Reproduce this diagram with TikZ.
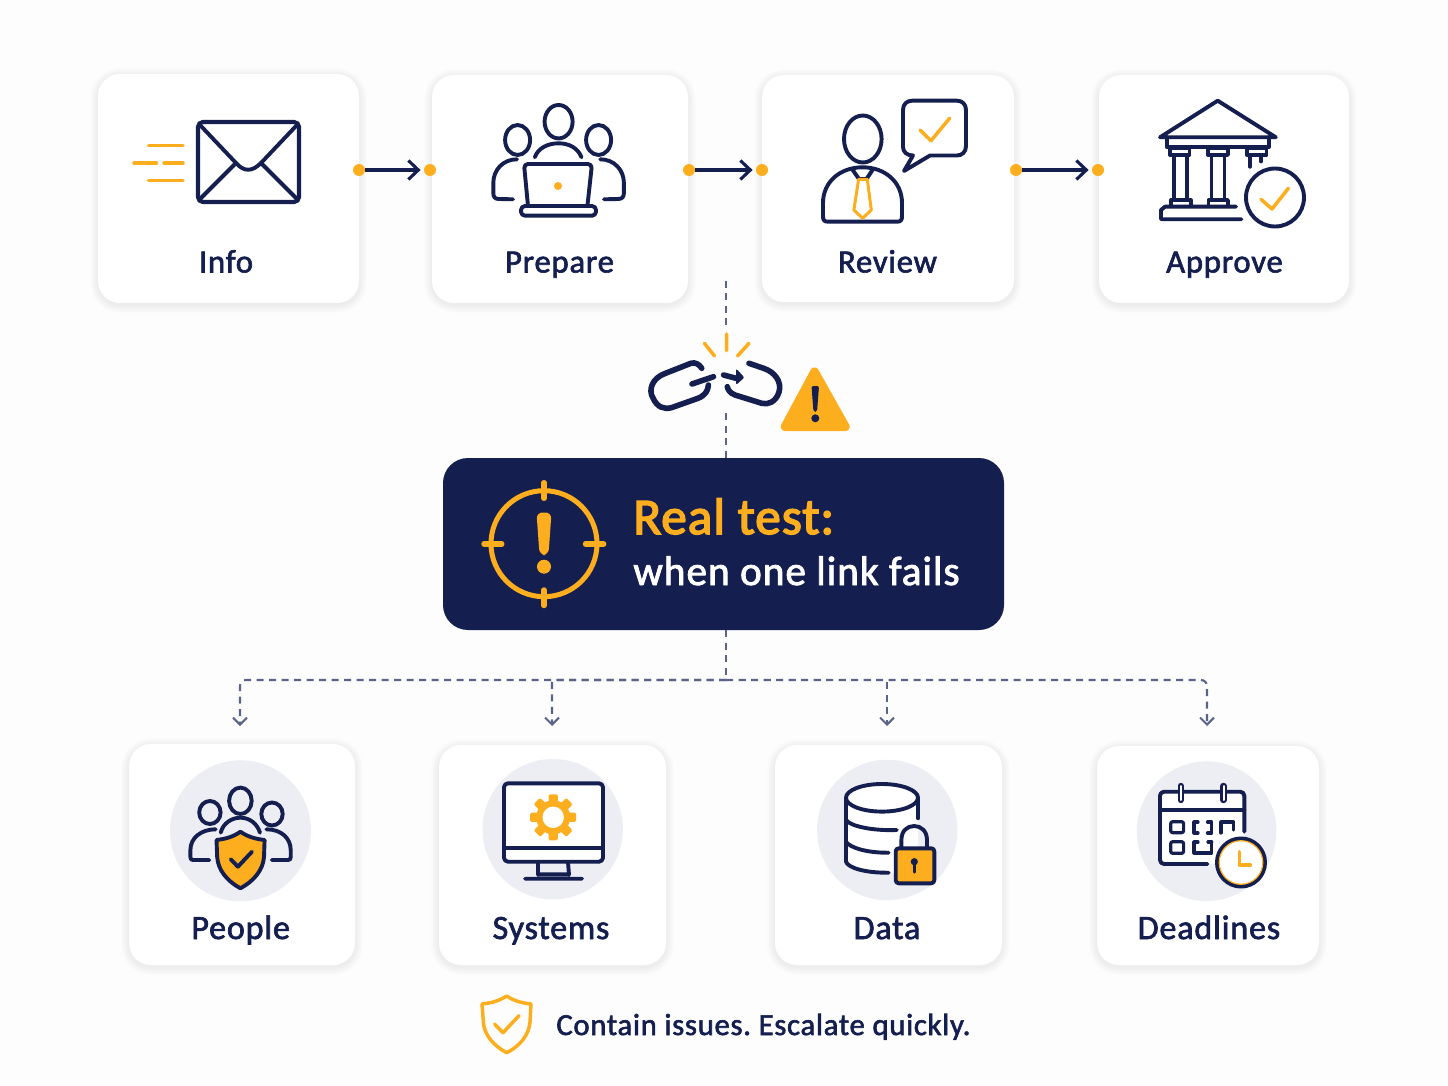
\documentclass[tikz,border=0pt]{standalone}
\usepackage{fontspec}
\setmainfont{Carlito}
\newfontfamily\labfont[FakeBold=2,LetterSpace=2.5]{Carlito}
\newfontfamily\bigfont[FakeBold=3,LetterSpace=2]{Carlito}
\usetikzlibrary{arrows.meta}
\definecolor{navy}{HTML}{141F4F}
\definecolor{amber}{HTML}{FDAE1E}
\definecolor{dashc}{HTML}{5B6488}
\definecolor{halo}{HTML}{ECEEF3}
\definecolor{paper}{HTML}{FDFDFE}
\tikzset{
  nv/.style={draw=navy,line width=1.95pt,line cap=round,line join=round},
  am/.style={draw=amber,line width=1.75pt,line cap=round,line join=round},
  card/.style={draw=none,fill=white,rounded corners=11pt,inner sep=0pt},
  lab/.style={inner sep=0pt,anchor=base,text=navy,font=\labfont\fontsize{16.3}{19}\selectfont},
  labb/.style={lab,font=\labfont\fontsize{17}{20}\selectfont},
  dot/.style={circle,fill=amber,draw=none,minimum size=6pt,inner sep=0pt},
  linkarrow/.style={draw=navy,line width=1.55pt,-{Straight Barb[length=5pt,width=9.5pt,line width=1.55pt]},shorten >=1.5pt},
  dashln/.style={draw=dashc,line width=1.05pt,dash pattern=on 3.5pt off 2.75pt},
  dasharrow/.style={dashln,-{Straight Barb[length=3.5pt,width=7pt,line width=1.05pt]}},
}
\newcommand\cardbox[5]{%
  \foreach \k in {1,...,8}{%
    \fill[black,opacity=.007,rounded corners={11pt+\k*.5pt}]
      ({#2-\k},{#3-\k+2}) rectangle ({#4+\k},{#5+\k+2});}
  \node[card,minimum width={(#4-#2)*.5pt},minimum height={(#5-#3)*.5pt}] (#1) at ({(#2+#4)/2},{(#3+#5)/2}) {};}
\begin{document}
\frenchspacing
\begin{tikzpicture}[x=.5pt,y=-.5pt]
\useasboundingbox (0,0) rectangle (1448,1086);
\fill[paper] (0,0) rectangle (1448,1086);
% cards
\cardbox{cinfo}{98}{74}{359}{303}
\cardbox{cprep}{432}{75}{688}{303}
\cardbox{crev}{762}{75}{1014}{302}
\cardbox{cappr}{1099}{75}{1349}{303}
\cardbox{cpeop}{129}{744}{355}{965}
\cardbox{csys}{439}{745}{666}{965}
\cardbox{cdata}{775}{745}{1002}{965}
\cardbox{cdead}{1097}{746}{1319}{965}
% top labels
\node[lab] (tinfo) at (226,272.5) {Info};
\node[lab] (tprep) at (559.5,272.5) {Prepare};
\node[lab] (trev) at (887.5,272.5) {Review};
\node[lab] (tappr) at (1224.5,272.5) {Approve};
% connectors
\node[dot] (d1a) at (359,170) {};
\node[dot] (d1b) at (430,170) {};
\node[dot] (d2a) at (689,170) {};
\node[dot] (d2b) at (762,170) {};
\node[dot] (d3a) at (1016,170) {};
\node[dot] (d3b) at (1098,170) {};
\draw[linkarrow] (d1a) -- (d1b);
\draw[linkarrow] (d2a) -- (d2b);
\draw[linkarrow] (d3a) -- (d3b);
% envelope
\draw[nv,line width=2.1pt,rounded corners=2.5pt] (198,122) rectangle (299,202);
\draw[nv] (200,125) -- (236,163) .. controls (244,172) and (252,172) .. (261,163) -- (297,125);
\draw[nv] (200,199) -- (236,163) (297,199) -- (261,163);
\draw[am] (148.5,145.7) -- (183,145.7) (134,163) -- (156.5,163) (164,163) -- (183,163) (148.5,180.7) -- (183,180.7);
% prepare icon
\draw[nv] (558.6,121.7) ellipse [x radius=14,y radius=16.7];
\draw[nv] (517.6,140) ellipse [x radius=12.5,y radius=15];
\draw[nv] (598.6,140) ellipse [x radius=12.5,y radius=15];
\draw[nv] (534.8,157.3) .. controls (538,148) and (548,143.3) .. (558.6,143.3) .. controls (569,143.3) and (578,148) .. (581.5,157.3);
\draw[nv] (517,159.3) .. controls (503,159.3) and (493.3,170) .. (493.3,183) -- (493.3,193) .. controls (493.3,197) and (495,199) .. (499,199) -- (513,199.3);
\draw[nv] (600.2,159.3) .. controls (614.2,159.3) and (623.9,170) .. (623.9,183) -- (623.9,193) .. controls (623.9,197) and (622,199) .. (618,199) -- (604,199.3);
\draw[nv,rounded corners=2pt] (528,206) -- (524,164) -- (592,164) -- (587.4,206);
\draw[nv,rounded corners=2pt] (521,206) rectangle (596,215.7);
\fill[amber] (558,186) circle [radius=4];
% review icon
\draw[nv] (862.8,139) ellipse [x radius=18.8,y radius=23.5];
\draw[nv] (830,221.7) -- (828,221.7) .. controls (824,221.7) and (823,220) .. (823,216) -- (823,203) .. controls (823,182) and (840,167.3) .. (862.6,167.3) .. controls (885,167.3) and (902,182) .. (902,203) -- (902,216) .. controls (902,220) and (901,221.7) .. (897,221.7) -- cycle;
\draw[nv] (852.7,170) -- (859,179) -- (866.5,179) -- (872.5,170);
\draw[am,line width=1.5pt] (858.6,179.3) -- (867.3,179.3) -- (871.3,210) -- (862.6,218.3) -- (853.9,210) -- cycle;
\draw[nv] (904,171) -- (913,155.5) .. controls (907,155.5) and (903,152) .. (903,147) -- (903,110) .. controls (903,104) and (907,100.7) .. (912,100.7) -- (957,100.7) .. controls (962,100.7) and (966,104) .. (966,110) -- (966,146) .. controls (966,152) and (962,155.5) .. (957,155.5) -- (930,155.5) -- cycle;
\draw[am] (920,130) -- (931,140.7) -- (949.6,118.3);
% approve icon
\draw[nv] (1160,137.3) -- (1217.7,100.7) -- (1275.8,137.3) -- cycle;
\draw[nv] (1167,137.3) -- (1167,147.3) -- (1268.7,147.3) -- (1268.7,137.3);
\draw[nv,line width=1.7pt] (1170,148.5) rectangle (1189.6,155) (1208,148.5) rectangle (1228,155) (1247,148.5) rectangle (1266.7,155);
\draw[nv,line width=1.7pt] (1174,155) -- (1174,200) (1186.8,155) -- (1186.8,200) (1211.7,155) -- (1211.7,200) (1224.4,155) -- (1224.4,200);
\draw[nv,line width=1.7pt] (1250,155) -- (1250,167) (1261,155) -- (1261,161.7);
\draw[nv,line width=1.7pt] (1171,200) rectangle (1190.8,206.7) (1208.6,200) rectangle (1228,206.7);
\draw[nv] (1236,206.7) -- (1165,206.7) -- (1161,210) -- (1161,219.3) -- (1241.4,219.3);
\draw[nv] (1275,197.5) circle [radius=29];
\draw[am] (1261,199.3) -- (1272,209) -- (1288.4,188.3);
% dashed riser and broken link
\coordinate (risertop) at (726,281);
\coordinate (riserup) at (726,325);
\coordinate (riserlow) at (726,413);
\node[draw=none,fill=navy,rounded corners=12.5pt,inner sep=0pt,minimum width=280.5pt,minimum height=86pt] (banner) at (723.5,544) {};
\draw[dashln] (risertop) -- (riserup);
\draw[dashln] (riserlow) -- (riserlow |- banner.north);
\draw[nv,line width=2.8pt] (701.8,368.3) .. controls (699,364) and (695,362) .. (690.9,363.3) -- (665.5,373.3) .. controls (652,378) and (648,390) .. (653,398) .. controls (657,407) and (664,410) .. (672,407.5) -- (698,398.3) .. controls (705,395.5) and (708,391) .. (708.4,385);
\draw[nv,line width=2.8pt] (692,384) -- (713.5,376.7);
\draw[nv,line width=2.8pt] (749,363.3) -- (763.6,368.3) .. controls (775,372) and (782,382) .. (779,392) .. controls (776,402) and (768,405) .. (761.8,403.3) -- (735,395) .. controls (730,393) and (728,390) .. (727.3,386.7);
\draw[nv,line width=2.8pt] (723.6,375) -- (738,378.8);
\fill[navy,rounded corners=1pt] (736,368.5) -- (744.5,377.5) -- (736,385) -- cycle;
\draw[am] (726.5,334) -- (726.5,350.7) (704.4,343.3) -- (714.5,356) (749,343.3) -- (737.5,356);
\fill[amber,draw=amber,line width=2.5pt,line join=round,rounded corners=1.5pt] (814.5,368) -- (848.5,428.5) -- (782,428.5) -- cycle;
\fill[navy,rounded corners=1pt] (811.5,386) -- (819,386) -- (817,412) -- (813.5,412) -- cycle;
\fill[navy] (815.3,418.3) circle [radius=4];
% banner icon and text
\draw[draw=amber,line width=2.5pt] (544,543.7) circle [radius=53];
\draw[am,line width=2.7pt] (544,482.7) -- (544,498.3) (544,590) -- (544,605.5) (484,544) -- (501.8,544) (585.5,544) -- (603.7,544);
\fill[amber,rounded corners=3pt] (536.5,512.5) -- (551.5,512.5) -- (548.5,555) -- (539.5,555) -- cycle;
\fill[amber] (544,566.7) circle [radius=7];
\node[inner sep=0pt,anchor=base west,text=amber,font=\bigfont\fontsize{25.6}{29}\selectfont] (treal) at (633,534) {Real test:};
\node[inner sep=0pt,anchor=base west,text=white,font=\labfont\fontsize{20.6}{24}\selectfont] (twhen) at (633,585) {when one link fails};
% dashed tree
\coordinate (hub) at (726,680);
\coordinate (a1) at (240,726);
\coordinate (a2) at (552,726);
\coordinate (a3) at (887,726);
\coordinate (a4) at (1207,726);
\draw[dashln] (hub |- banner.south) -- (hub);
\draw[dasharrow,rounded corners=3pt] (hub) -| (a1);
\draw[dasharrow,rounded corners=1pt] (hub) -| (a2);
\draw[dasharrow,rounded corners=1pt] (hub) -| (a3);
\draw[dasharrow,rounded corners=3pt] (hub) -| (a4);
% people
\fill[halo] (240.5,830.8) circle [radius=70.5];
\draw[nv] (240.4,800.8) ellipse [x radius=11.3,y radius=13.2];
\draw[nv] (209.9,812.5) ellipse [x radius=10.7,y radius=11.5];
\draw[nv] (272,814) ellipse [x radius=10.7,y radius=11.5];
\draw[nv] (220.7,832.7) .. controls (223,823) and (232,817.7) .. (240.4,817.7) .. controls (249,817.7) and (257,823) .. (260,832.7);
\draw[nv] (215.7,829.3) .. controls (201,829.3) and (190.4,838) .. (190.4,850) -- (190.4,857) .. controls (190.4,859) and (191,860) .. (193,860) -- (209.3,860);
\draw[nv] (266.4,829.3) .. controls (281,829.3) and (290.7,838) .. (290.7,850) -- (290.7,857) .. controls (290.7,859) and (290,860) .. (288,860) -- (271.8,860);
\draw[nv,fill=amber] (240.4,831.7) .. controls (248,837) and (256,839) .. (264.6,840) -- (264,857) .. controls (263,870) and (254,881) .. (240.4,888.3) .. controls (227,881) and (218,870) .. (217.2,857) -- (216.5,840) .. controls (225,839) and (233,837) .. (240.4,831.7) -- cycle;
\draw[nv] (230.7,859.3) -- (237.9,866.7) -- (252,851.7);
\node[labb] (tpeop) at (240.7,939) {People};
% systems
\fill[halo] (552.7,829.2) circle [radius=70.2];
\draw[nv,fill=white,rounded corners=2pt] (504,783.3) rectangle (603,861.7);
\draw[nv] (504,848.3) -- (603,848.3);
\draw[nv] (538,862) -- (538,875) (568,862) -- (569,875) (538,874.3) -- (569,874.3) (525,878.7) -- (582,878.7);
\begin{scope}[shift={(553.2,817.3)}]
\fill[amber] (0,0) circle [radius=17];
\foreach \a in {0,45,...,315}{\fill[amber,rotate=\a,rounded corners=.7pt] (-4.6,-23) rectangle (4.6,-13);}
\fill[white] (0,0) circle [radius=10.7];
\end{scope}
\node[labb] (tsys) at (551,939) {Systems};
% data
\fill[halo] (887.3,830) circle [radius=70.2];
\fill[white] (846,797.8) -- (846,861) .. controls (850,870) and (870,873) .. (888.6,873) -- (918,873) -- (918,797.8) -- cycle;
\draw[nv,fill=white] (882,797.8) ellipse [x radius=36,y radius=13.8];
\draw[nv] (846,797.8) -- (846,861.7) .. controls (848,868) and (866,873) .. (888.6,872.7);
\draw[nv] (918,797.8) -- (918,818.3);
\draw[nv] (846,820) .. controls (850,826) and (872,831) .. (896.8,830);
\draw[nv] (846,841.7) .. controls (850,848) and (868,853) .. (888.6,852.7);
\draw[nv] (901.4,848.3) -- (901.4,840) .. controls (901.4,831) and (907,826) .. (914.2,826) .. controls (921,826) and (927,831) .. (927,840) -- (927,848.3);
\draw[nv,fill=amber,rounded corners=1.5pt] (895.7,848.3) rectangle (934.3,883.3);
\fill[navy] (914.3,861.7) circle [radius=3.6];
\draw[navy,line width=1.6pt,line cap=round] (914.3,862) -- (914.3,872);
\node[labb] (tdata) at (887,939) {Data};
% deadlines
\fill[halo] (1206.6,831.2) circle [radius=69.8];
\fill[white] (1160,791.7) rectangle (1244.3,864);
\draw[nv,rounded corners=2pt] (1207.5,864) -- (1160,864) -- (1160,791.7) -- (1244.3,791.7) -- (1244.3,831.7);
\draw[nv] (1160,810) -- (1244.3,810);
\draw[nv,line width=3.2pt] (1180.7,786) -- (1180.7,800) (1223.6,786) -- (1223.6,800);
\draw[white,line width=1pt,line cap=round] (1180.7,786) -- (1180.7,800) (1223.6,786) -- (1223.6,800);
\draw[nv,line width=1.6pt,rounded corners=1pt] (1170.7,821.7) rectangle (1183.6,832.7) (1170.7,841.7) rectangle (1183.6,853.3);
\draw[nv,line width=1.6pt] (1198,822) -- (1194,822) -- (1194,833) -- (1198,833) (1207.5,822) -- (1211.8,822) -- (1211.8,833) -- (1207.5,833);
\draw[nv,line width=1.6pt] (1194,842) -- (1194,853) -- (1211.8,853) -- (1211.8,842) (1194,842) -- (1198,842) (1211.8,842) -- (1208,842);
\draw[nv,line width=1.6pt] (1221,833) -- (1221,822) -- (1233.6,822) -- (1233.6,830);
\draw[nv,fill=white,line width=2pt] (1241,862.5) circle [radius=24];
\draw[draw=amber,line width=.6pt] (1241,862.5) circle [radius=21.8];
\draw[am] (1239.6,851.7) -- (1239.6,865) -- (1250.4,865);
\node[labb] (tdead) at (1209,939) {Deadlines};
% footer
\draw[am] (506.7,996) .. controls (514,1001) and (522,1003) .. (531,1004) -- (530,1022) .. controls (529,1035) and (520,1046) .. (506.7,1052.7) .. controls (494,1046) and (484,1035) .. (483.4,1022) -- (482,1004) .. controls (491,1003) and (499,1001) .. (506.7,996) -- cycle;
\draw[am] (494.5,1024) -- (503,1032.7) -- (519,1015.7);
\node[lab,anchor=base west,font=\labfont\fontsize{15.3}{18}\selectfont] (tfoot) at (556,1035) {Contain issues. Escalate quickly.};
\end{tikzpicture}
\end{document}
